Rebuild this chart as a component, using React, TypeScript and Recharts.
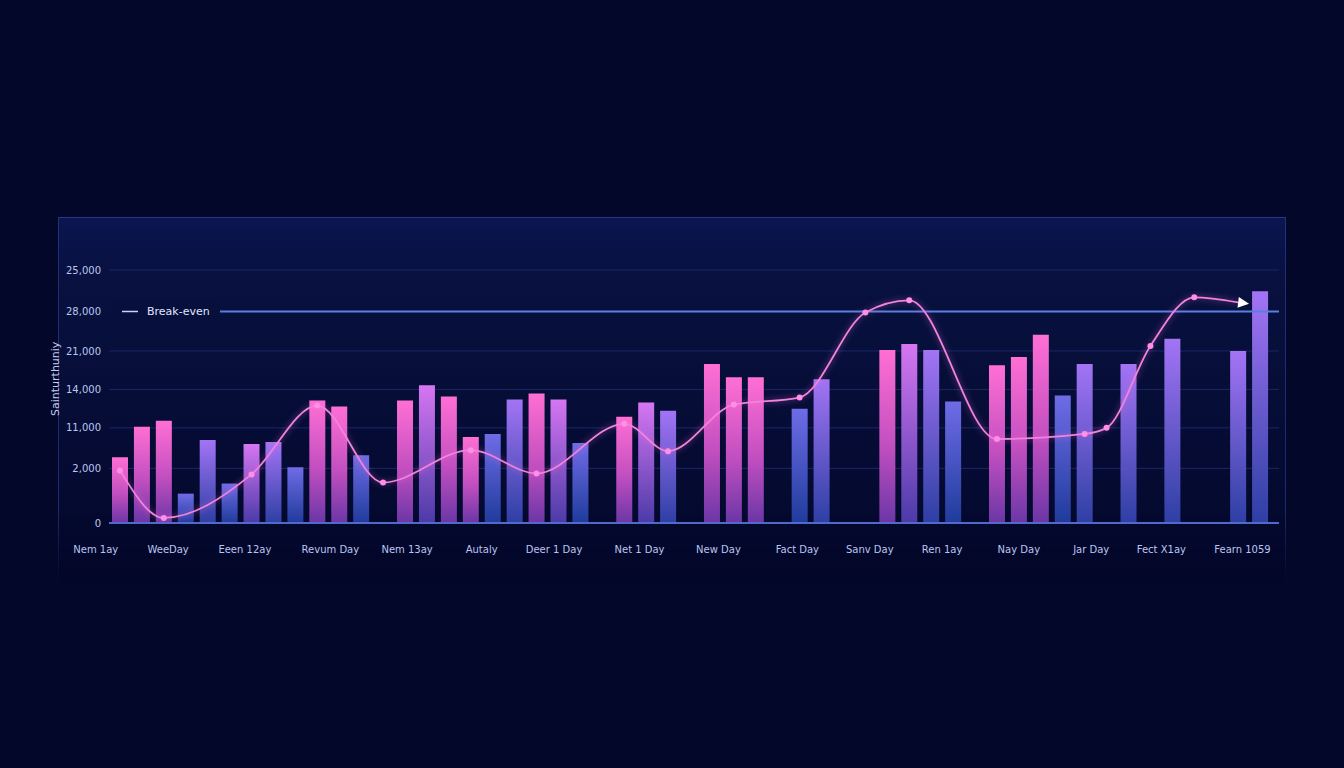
import React from 'react'
import { ComposedChart, Bar, Line, XAxis, YAxis, CartesianGrid, ReferenceLine } from 'recharts'

const _ = null

const xLabels = [
  'Nem 1ay', 'WeeDay', 'Eeen 12ay', 'Revum Day', 'Nem 13ay', 'Autaly', 'Deer 1 Day', 'Net 1 Day',
  'New Day', 'Fact Day', 'Sanv Day', 'Ren 1ay', 'Nay Day', 'Jar Day', 'Fect X1ay', 'Fearn 1059',
]
// where each label sits, in day-slot units
const xLabelSlots = [-1.1, 2.2, 5.7, 9.6, 13.1, 16.5, 19.8, 23.7, 27.3, 30.9, 34.2, 37.5, 41, 44.3, 47.5, 51.2]

const yTicks = [0, 5400, 9400, 13200, 17000, 20900, 25000]
const yTickLabels = ['0', '2,000', '11,000', '14,000', '21,000', '28,000', '25,000']
const breakEven = 20900

// one value per day slot, null = no bar
const salesA = [
  6500, 9500, 10100, _, _, _, _, _, _, 12100,
  11500, _, _, 12100, _, 12500, 8500, _, _, 12800,
  _, _, _, 10500, _, _, _, 15700, 14400, 14400,
  _, _, _, _, _, 17100, _, _, _, _,
  15600, 16400, 18600, _, _, _, _, _, _, _,
  _, _, _,
]
const salesB = [
  _, _, _, _, _, _, 7800, _, _, _,
  _, _, _, _, 13600, _, _, _, _, _,
  12200, _, _, _, 11900, _, _, _, _, _,
  _, _, _, _, _, _, 17700, _, _, _,
  _, _, _, _, _, _, _, _, _, _,
  _, _, _,
]
const salesC = [
  _, _, _, _, 8200, _, _, 8000, _, _,
  _, _, _, _, _, _, _, _, 12200, _,
  _, _, _, _, _, 11100, _, _, _, _,
  _, _, 14200, _, _, _, _, 17100, _, _,
  _, _, _, _, 15700, _, 15700, _, 18200, _,
  _, 17000, 22900,
]
const salesD = [
  _, _, _, 2900, _, 3900, _, _, 5500, _,
  _, 6700, _, _, _, _, _, 8800, _, _,
  _, 7900, _, _, _, _, _, _, _, _,
  _, 11300, _, _, _, _, _, _, 12000, _,
  _, _, _, 12600, _, _, _, _, _, _,
  _, _, _,
]
const trend = [
  5200, _, 500, _, _, _, 4800, _, _, 11600,
  _, _, 4000, _, _, _, 7200, _, _, 4900,
  _, _, _, 9800, _, 7100, _, _, 11700, _,
  _, 12400, _, _, 20800, _, 22000, _, _, _,
  8300, _, _, _, 8800, 9400, _, 17500, _, 22300,
  _, 21800, _,
]

const data = trend.map((t, i) => ({
  slot: i, a: salesA[i], b: salesB[i], c: salesC[i], d: salesD[i], trend: t,
}))

let lastTrend = 0
trend.forEach((t, i) => { if (t != null) lastTrend = i })

const tickStyle = { fill: '#bcc5f0', fontSize: 10, fontFamily: 'DejaVu Sans' }

const renderDot = (props: any) => {
  const { cx, cy, index, payload } = props
  if (payload?.trend == null || cy == null || cx == null) return <g key={`d${index}`} />
  if (index === lastTrend) {
    return (
      <polygon
        key={`d${index}`}
        points={`${cx + 11},${cy} ${cx},${cy - 5.5} ${cx},${cy + 5.5}`}
        transform={`rotate(7 ${cx} ${cy})`}
        fill="#ffffff"
      />
    )
  }
  return <circle key={`d${index}`} cx={cx} cy={cy} r={3} fill="#ff8fe4" />
}

const YLabel = ({ viewBox }: any) => {
  const x = viewBox.x - 3
  const y = viewBox.y + viewBox.height * 0.43
  return (
    <text x={x} y={y} transform={`rotate(-90 ${x} ${y})`} textAnchor="middle" dominantBaseline="central"
      fill="#c3cbf2" fontSize={11} fontFamily="DejaVu Sans">
      Sainturthuniy
    </text>
  )
}

const BreakEvenLabel = ({ viewBox }: any) => {
  const { x, y } = viewBox
  return (
    <g>
      <rect x={x} y={y - 9} width={111} height={18} fill="#07103c" />
      <line x1={x + 13} x2={x + 29} y1={y} y2={y} stroke="#c9d2ff" strokeWidth={1.5} />
      <text x={x + 38} y={y} dominantBaseline="central" fill="#e2e6ff" fontSize={11} fontFamily="DejaVu Sans">
        Break-even
      </text>
    </g>
  )
}

export default function App() {
  return (
    <div style={{ position: 'absolute', left: 0, top: 0, width: 1344, height: 768, background: '#03072a', overflow: 'hidden' }}>
      <div style={{
        position: 'absolute', left: 58, top: 217, width: 1226, height: 365,
        borderTop: '1px solid rgba(72,92,196,0.55)', borderLeft: '1px solid rgba(72,92,196,0.4)', borderRight: '1px solid rgba(72,92,196,0.4)',
        background: 'linear-gradient(180deg, #0b1550 0%, #08113f 16%, #07103c 30%, #050b33 65%, #03072a 100%)',
        WebkitMaskImage: 'linear-gradient(180deg, #000 80%, transparent 100%)',
        maskImage: 'linear-gradient(180deg, #000 80%, transparent 100%)',
      }} />
      <div style={{ position: 'absolute', left: 0, top: 0 }}>
        <ComposedChart width={1344} height={768} data={data} margin={{ top: 270, right: 65, bottom: 211, left: 59 }}>
          <defs>
            <linearGradient id="gPink" x1="0" y1="0" x2="0" y2="1">
              <stop offset="0%" stopColor="#ff6fd4" />
              <stop offset="55%" stopColor="#c24fc0" />
              <stop offset="100%" stopColor="#6b36a6" />
            </linearGradient>
            <linearGradient id="gOrchid" x1="0" y1="0" x2="0" y2="1">
              <stop offset="0%" stopColor="#d676f2" />
              <stop offset="100%" stopColor="#4b3aa8" />
            </linearGradient>
            <linearGradient id="gViolet" x1="0" y1="0" x2="0" y2="1">
              <stop offset="0%" stopColor="#a374f5" />
              <stop offset="100%" stopColor="#2d3fa4" />
            </linearGradient>
            <linearGradient id="gBlue" x1="0" y1="0" x2="0" y2="1">
              <stop offset="0%" stopColor="#6f6ce6" />
              <stop offset="100%" stopColor="#1f3b9c" />
            </linearGradient>
          </defs>
          <CartesianGrid xAxisId="slot" vertical={false} stroke="#1b2766" />
          <XAxis xAxisId="slot" dataKey="slot" type="category" hide padding={{ left: 0, right: 8 }} />
          <XAxis
            xAxisId="lbl" dataKey="slot" type="number" domain={[-1.5, 52.865]} allowDataOverflow
            ticks={xLabelSlots} interval={0}
            tickFormatter={(v: number) => xLabels[xLabelSlots.indexOf(v)]}
            padding={{ left: -22, right: 0 }}
            tickLine={false} axisLine={{ stroke: '#5468cc', strokeWidth: 2 }}
            tickMargin={17} height={34} tick={tickStyle}
          />
          <YAxis
            domain={[0, 25000]} ticks={yTicks} interval={0} width={50}
            tickLine={false} axisLine={false} tick={tickStyle}
            tickFormatter={(v: number) => yTickLabels[yTicks.indexOf(v)]}
            label={YLabel}
          />
          <ReferenceLine xAxisId="slot" y={breakEven} stroke="#5b7fe0" strokeWidth={2} label={BreakEvenLabel} />
          <Bar xAxisId="slot" dataKey="a" stackId="s" barSize={16} fill="url(#gPink)" isAnimationActive={false} />
          <Bar xAxisId="slot" dataKey="b" stackId="s" barSize={16} fill="url(#gOrchid)" isAnimationActive={false} />
          <Bar xAxisId="slot" dataKey="c" stackId="s" barSize={16} fill="url(#gViolet)" isAnimationActive={false} />
          <Bar xAxisId="slot" dataKey="d" stackId="s" barSize={16} fill="url(#gBlue)" isAnimationActive={false} />
          <Line
            xAxisId="slot" dataKey="trend" type="monotone" connectNulls
            stroke="#f083dc" strokeWidth={1.8} dot={renderDot} activeDot={false}
            style={{ filter: 'drop-shadow(0 0 3px rgba(255,110,220,0.6))' }}
            isAnimationActive={false}
          />
        </ComposedChart>
      </div>
    </div>
  )
}
